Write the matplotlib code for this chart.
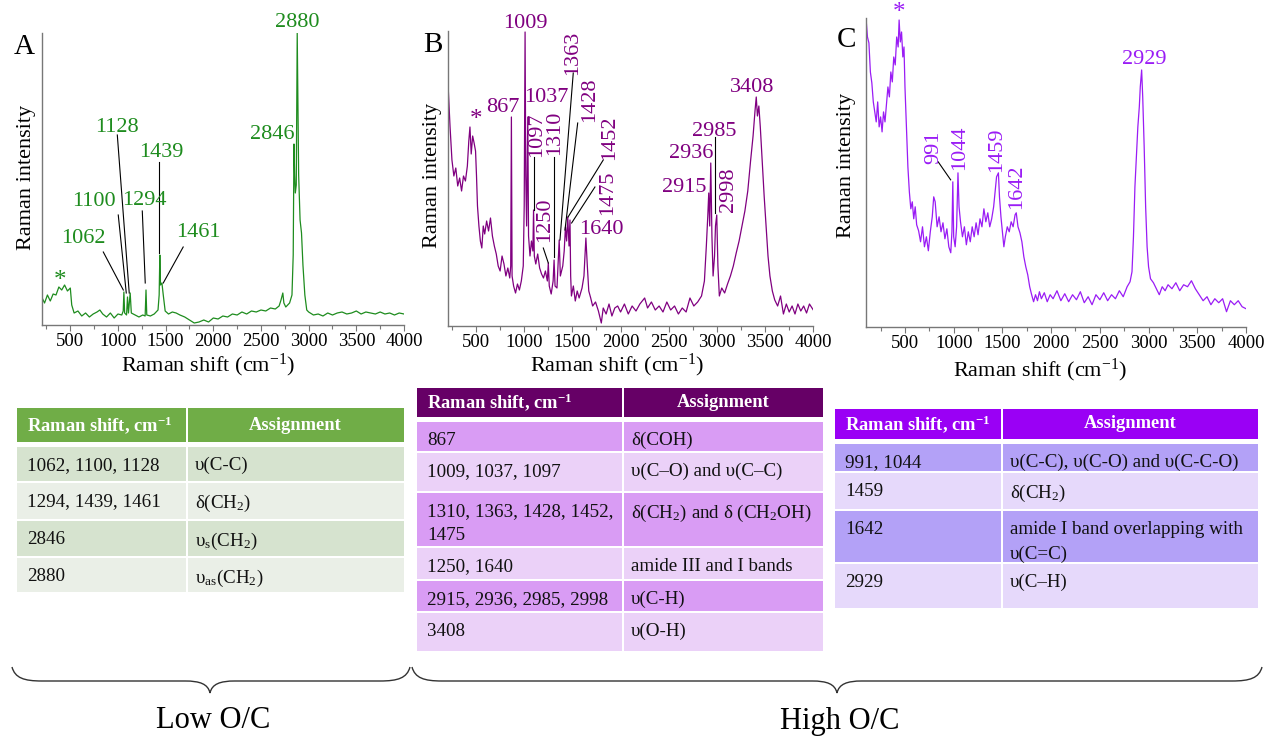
import matplotlib
matplotlib.use("Agg")
import matplotlib.pyplot as plt
from matplotlib.patches import Rectangle, PathPatch
from matplotlib.path import Path
from matplotlib.ticker import MultipleLocator

plt.rcParams['font.family'] = ['Liberation Serif', 'DejaVu Serif']
plt.rcParams['mathtext.fontset'] = 'custom'
plt.rcParams['mathtext.rm'] = 'Liberation Serif'
plt.rcParams['mathtext.it'] = 'Liberation Serif:italic'
plt.rcParams['mathtext.bf'] = 'Liberation Serif:bold'

W, H = 1264, 739

# ---- spectra (shift in cm-1, intensity in arbitrary units) ----
shift_a = [200, 230, 260, 290, 320, 350, 380, 410, 440, 470, 500, 515, 540, 580, 620, 660, 700, 740,
           780, 810, 840, 880, 920, 960, 1000, 1040, 1055, 1062, 1070, 1090, 1100, 1110, 1128, 1140,
           1180, 1220, 1260, 1285, 1294, 1302, 1340, 1380, 1420, 1432, 1439, 1446, 1461, 1475, 1495,
           1530, 1570, 1610, 1650, 1700, 1750, 1800, 1850, 1900, 1950, 2000, 2050, 2100, 2150, 2200,
           2250, 2300, 2350, 2400, 2450, 2500, 2550, 2600, 2650, 2690, 2710, 2729, 2740, 2760, 2800,
           2825, 2838, 2846, 2853, 2860, 2870, 2880, 2895, 2910, 2925, 2940, 2960, 2980, 3000, 3050,
           3100, 3150, 3200, 3250, 3300, 3350, 3400, 3450, 3500, 3550, 3600, 3650, 3700, 3750, 3800,
           3850, 3900, 3950, 4000]
int_a = [28, 22, 30, 24, 31, 30, 38, 35, 40, 34, 37, 20, 12, 14, 9, 12, 8, 11,
         13, 15, 11, 8, 12, 7, 11, 10, 14, 33, 12, 10, 28, 12, 32, 12,
         10, 8, 10, 9, 35, 10, 9, 11, 15, 30, 70, 40, 42, 30, 14,
         11, 13, 12, 10, 8, 5, 2, 3, 5, 3, 7, 6, 9, 8, 11,
         10, 13, 11, 14, 13, 15, 14, 17, 16, 19, 25, 32, 22, 18, 22,
         30, 70, 181, 150, 132, 140, 292, 150, 105, 92, 60, 30, 15, 13, 10,
         11, 9, 12, 10, 12, 13, 11, 12, 14, 11, 13, 12, 11, 13, 11,
         12, 10, 12, 11]

shift_b = [200, 215, 230, 250, 270, 290, 310, 330, 350, 370, 390, 410, 425, 437, 450, 465, 480, 495,
           505, 515, 530, 545, 560, 575, 590, 610, 630, 650, 670, 690, 710, 730, 750, 770, 790, 810,
           830, 850, 860, 867, 874, 890, 910, 930, 950, 970, 990, 1000, 1009, 1016, 1025, 1037, 1045,
           1060, 1075, 1090, 1097, 1105, 1120, 1140, 1160, 1180, 1200, 1220, 1240, 1250, 1260, 1280,
           1300, 1310, 1320, 1340, 1363, 1375, 1400, 1415, 1428, 1440, 1452, 1465, 1475, 1482, 1490,
           1510, 1530, 1550, 1570, 1600, 1620, 1640, 1655, 1670, 1690, 1710, 1740, 1770, 1800, 1820,
           1850, 1880, 1910, 1940, 1970, 2000, 2040, 2080, 2120, 2160, 2200, 2250, 2280, 2320, 2360,
           2400, 2440, 2480, 2520, 2560, 2600, 2640, 2680, 2720, 2760, 2800, 2840, 2870, 2890, 2905,
           2915, 2925, 2936, 2948, 2960, 2975, 2985, 2998, 3010, 3025, 3050, 3080, 3110, 3140, 3170,
           3200, 3230, 3260, 3290, 3320, 3350, 3375, 3395, 3408, 3420, 3435, 3450, 3470, 3490, 3510,
           3530, 3550, 3575, 3600, 3630, 3660, 3690, 3720, 3750, 3780, 3810, 3840, 3870, 3900, 3930,
           3960, 4000]
int_b = [261, 230, 200, 166, 150, 158, 140, 148, 135, 150, 145, 160, 185, 199, 172, 190, 183, 175,
         150, 120, 100, 85, 78, 100, 92, 105, 95, 108, 90, 80, 72, 60, 55, 70, 62, 50,
         58, 48, 60, 209, 50, 40, 33, 42, 36, 45, 60, 120, 294, 150, 100, 209, 90,
         70, 85, 75, 116, 70, 62, 72, 58, 52, 48, 55, 45, 63, 40, 32,
         45, 66, 40, 38, 86, 50, 60, 75, 99, 85, 109, 80, 106, 50, 30,
         40, 25, 35, 28, 38, 50, 88, 60, 35, 28, 20, 24, 15, 3, 18,
         12, 22, 10, 18, 20, 14, 22, 12, 20, 15, 22, 28, 18, 24, 16,
         20, 14, 24, 16, 20, 12, 18, 14, 28, 20, 24, 30, 45, 80, 110,
         133, 100, 163, 90, 50, 70, 100, 111, 60, 30, 38, 33, 42, 50, 60,
         73, 85, 100, 115, 135, 166, 190, 215, 229, 210, 220, 199, 165, 130, 100,
         70, 50, 35, 26, 20, 30, 12, 22, 14, 20, 12, 22, 15, 20, 13,
         22, 16]

shift_c = [100, 115, 130, 145, 160, 175, 190, 205, 220, 235, 250, 265, 280, 295, 310, 325, 340, 355,
           370, 385, 400, 415, 430, 440, 452, 465, 478, 490, 500, 515, 530, 545, 560, 575, 590, 605,
           620, 640, 660, 680, 700, 720, 740, 760, 780, 795, 810, 830, 850, 870, 890, 910, 930, 950,
           970, 982, 991, 1000, 1015, 1030, 1044, 1055, 1070, 1090, 1110, 1130, 1150, 1170, 1190, 1210,
           1230, 1250, 1270, 1290, 1310, 1330, 1350, 1370, 1390, 1410, 1425, 1440, 1459, 1470, 1485,
           1500, 1515, 1530, 1550, 1570, 1590, 1610, 1630, 1642, 1660, 1680, 1700, 1720, 1740, 1760,
           1780, 1800, 1820, 1840, 1860, 1880, 1900, 1930, 1960, 1990, 2020, 2060, 2100, 2140, 2180,
           2220, 2260, 2300, 2340, 2380, 2420, 2460, 2500, 2540, 2580, 2620, 2660, 2700, 2740, 2780,
           2810, 2830, 2845, 2860, 2875, 2890, 2905, 2915, 2929, 2940, 2955, 2970, 2985, 3000, 3020,
           3050, 3080, 3110, 3140, 3170, 3200, 3240, 3280, 3320, 3360, 3400, 3440, 3480, 3520, 3560,
           3600, 3640, 3680, 3720, 3760, 3800, 3840, 3880, 3920, 3960, 4000]
int_c = [309, 290, 284, 255, 244, 225, 215, 205, 225, 200, 210, 195, 215, 205, 222, 240, 230, 255,
         245, 270, 262, 290, 280, 307, 285, 295, 270, 280, 240, 200, 160, 135, 118, 125, 108, 120,
         102, 96, 85, 100, 80, 90, 76, 95, 110, 130, 125, 100, 110, 95, 104, 88, 98, 80,
         74, 95, 145, 90, 80, 100, 154, 120, 105, 90, 100, 82, 95, 85, 100, 90,
         104, 92, 108, 100, 118, 105, 114, 100, 108, 120, 135, 150, 154, 130, 110,
         95, 80, 90, 100, 95, 105, 100, 112, 114, 100, 94, 85, 70, 60, 52,
         40, 32, 25, 32, 26, 35, 28, 34, 25, 32, 28, 36, 26, 33, 25,
         32, 27, 35, 24, 30, 22, 32, 27, 34, 26, 32, 28, 36, 30, 40,
         45, 55, 90, 140, 170, 200, 220, 240, 257, 230, 180, 120, 80, 60, 48,
         44, 38, 32, 40, 36, 42, 38, 44, 36, 42, 40, 46, 38, 32, 26,
         30, 22, 28, 24, 28, 15, 26, 22, 26, 20, 18]

# ---- assignment tables ----
tab_a_shift = ["1062, 1100, 1128", "1294, 1439, 1461", "2846", "2880"]
tab_a_assign = ["υ(C-C)", "δ(CH$_\\mathrm{2}$)", "υ$_\\mathrm{s}$(CH$_\\mathrm{2}$)",
                "υ$_\\mathrm{as}$(CH$_\\mathrm{2}$)"]
tab_b_shift = ["867", "1009, 1037, 1097", "1310, 1363, 1428, 1452,\n1475", "1250, 1640",
               "2915, 2936, 2985, 2998", "3408"]
tab_b_assign = ["δ(COH)", "υ(C–O) and υ(C–C)", "δ(CH$_\\mathrm{2}$) and δ (CH$_\\mathrm{2}$OH)",
                "amide III and I bands", "υ(C-H)", "υ(O-H)"]
tab_c_shift = ["991, 1044", "1459", "1642", "2929"]
tab_c_assign = ["υ(C-C), υ(C-O) and υ(C-C-O)", "δ(CH$_\\mathrm{2}$)",
                "amide I band overlapping with\nυ(C=C)", "υ(C–H)"]
header = ["Raman shift, cm$^\\mathbf{-1}$", "Assignment"]

green = "#1e8c1e"
plum = "#800080"
violet = "#9a1cf5"

fig = plt.figure(figsize=(W / 100, H / 100), dpi=100)

# overlay in pixel coordinates for tables, braces and free text
ov = fig.add_axes([0, 0, 1, 1])
ov.set_xlim(0, W)
ov.set_ylim(H, 0)
ov.axis("off")


def add_panel(box, xmin, ymax, shift, inten, color):
    x0, y0, x1, y1 = box
    ax = fig.add_axes([x0 / W, 1 - y1 / H, (x1 - x0) / W, (y1 - y0) / H])
    ax.plot(shift, inten, color=color, lw=0.9)
    ax.set_xlim(xmin, 4000)
    ax.set_ylim(0, ymax)
    ax.set_xticks(range(500, 4001, 500))
    ax.xaxis.set_minor_locator(MultipleLocator(250))
    ax.set_yticks([])
    ax.tick_params(axis="x", which="major", length=4, width=0.8, color="#777777",
                   labelsize=13.5, pad=2)
    ax.tick_params(axis="x", which="minor", length=3, width=0.8, color="#777777")
    for s in ["top", "right"]:
        ax.spines[s].set_visible(False)
    for s in ["left", "bottom"]:
        ax.spines[s].set_color("#777777")
        ax.spines[s].set_linewidth(1.0)
    ax.patch.set_alpha(0)
    return ax


def add_labels(ax, labels, lines, color):
    for txt, x, y, rot in labels:
        fs = 18 if txt == "*" else 16
        ax.text(x, y, txt, color=color, fontsize=fs, rotation=rot,
                ha="center", va="center", clip_on=False)
    for xa, ya, xb, yb in lines:
        ax.plot([xa, xb], [ya, yb], color="black", lw=0.8, clip_on=False)


ax_a = add_panel((41.7, 33, 404, 325), 200, 292, shift_a, int_a, green)
ax_b = add_panel((447.7, 31, 813.3, 326), 206, 295, shift_b, int_b, plum)
ax_c = add_panel((865.7, 18, 1246, 326.7), 97, 309, shift_c, int_c, violet)

add_labels(ax_a,
           [("1062", 636, 86, 0), ("1100", 752, 123, 0), ("1128", 993, 197, 0),
            ("1294", 1276, 124, 0), ("1439", 1454, 172, 0), ("1461", 1842, 92, 0),
            ("2846", 2617, 190, 0), ("2880", 2880, 302, 0), ("*", 395, 44, 0)],
           [(846, 73, 1056, 35), (1003, 110, 1087, 32), (993, 190, 1118, 32),
            (1255, 114, 1286, 42), (1433, 163, 1433, 72), (1684, 78, 1475, 42)],
           green)
add_labels(ax_b,
           [("1009", 1008, 302, 0), ("867", 783, 218, 0), ("*", 497, 206, 0),
            ("1037", 1233, 228, 0), ("1097", 1129, 191, 90), ("1310", 1319, 193, 90),
            ("1363", 1499, 273, 90), ("1428", 1682, 226, 90), ("1452", 1882, 188, 90),
            ("1475", 1866, 133, 90), ("1250", 1216, 106, 90), ("1640", 1796, 96, 0),
            ("2915", 2660, 138, 0), ("2936", 2737, 173, 0), ("2985", 2968, 195, 0),
            ("2998", 3116, 136, 90), ("3408", 3365, 238, 0)],
           [(1101, 169, 1101, 116), (1312, 169, 1312, 69), (1198, 78, 1250, 63),
            (1509, 253, 1371, 86), (1555, 203, 1423, 96), (1820, 166, 1455, 109),
            (1734, 139, 1492, 103), (2978, 189, 2978, 113)],
           plum)
add_labels(ax_c,
           [("*", 438, 314, 0), ("2929", 2955, 267, 0), ("991", 791, 180, 90),
            ("1044", 1065, 179, 90), ("1459", 1442, 177, 90), ("1642", 1647, 140, 90)],
           [(841, 165, 969, 147)],
           violet)

# axis titles and panel letters
for (xl, yl), (yx, yy), (lx, ly), letter in [((208, 365), (27, 177), (24, 47), "A"),
                                               ((617, 365), (432, 175), (433, 45), "B"),
                                               ((1040, 370), (847, 165), (847, 40), "C")]:
    ov.text(xl, yl, "Raman shift (cm$^{-1}$)", fontsize=16, ha="center", va="center")
    ov.text(yx, yy, "Raman intensity", fontsize=16, rotation=90, ha="center", va="center")
    ov.text(lx, ly, letter, fontsize=21, ha="center", va="center")


def draw_table(x0, xdiv, x1, head_rows, rows, shifts, assigns, head_col, dark, light):
    hy0, hy1 = head_rows
    ov.add_patch(Rectangle((x0, hy0), xdiv - 1 - x0, hy1 - hy0, color=head_col, lw=0))
    ov.add_patch(Rectangle((xdiv + 1, hy0), x1 - xdiv - 1, hy1 - hy0, color=head_col, lw=0))
    hc = (hy0 + hy1) / 2
    ov.text(x0 + 10, hc, header[0], color="white", fontsize=13.3,
            fontweight="bold", ha="left", va="center")
    ov.text((xdiv + x1) / 2, hc, header[1], color="white", fontsize=13.3,
            fontweight="bold", ha="center", va="center")
    for i, ((ry0, ry1), s, a) in enumerate(zip(rows, shifts, assigns)):
        col = dark if i % 2 == 0 else light
        ov.add_patch(Rectangle((x0, ry0 + 1), xdiv - 1 - x0, ry1 - ry0 - 2, color=col, lw=0))
        ov.add_patch(Rectangle((xdiv + 1, ry0 + 1), x1 - xdiv - 1, ry1 - ry0 - 2, color=col, lw=0))
        ov.text(x0 + 10, ry0 + 11, s, fontsize=13.7, ha="left", va="top",
                color="#111111", linespacing=1.55)
        ov.text(xdiv + 8, ry0 + 11, a, fontsize=13.7, ha="left", va="top",
                color="#111111", linespacing=1.55)


draw_table(17, 187, 404, (408, 442),
           [(446, 482), (482, 520), (520, 557), (557, 593)],
           tab_a_shift, tab_a_assign, "#70ad47", "#d6e3cf", "#eaefe7")
draw_table(417, 623, 823, (388, 417),
           [(421, 452), (452, 492), (492, 547), (547, 580), (580, 612), (612, 652)],
           tab_b_shift, tab_b_assign, "#660066", "#d99cf4", "#ebd1f8")
draw_table(835, 1002, 1258, (409, 439),
           [(443, 472), (472, 510), (510, 563), (563, 609)],
           tab_c_shift, tab_c_assign, "#9a00f5", "#b3a1f7", "#e6d9fb")


def brace(xl, xt, xr, ye=667, yf=681, yt=693):
    verts = [(xl, ye), (xl + 3, yf - 3), (xl + 12, yf), (xl + 30, yf),
             (xt - 25, yf),
             (xt - 10, yf), (xt - 2, yf + 3), (xt, yt),
             (xt + 2, yf + 3), (xt + 10, yf), (xt + 25, yf),
             (xr - 30, yf),
             (xr - 12, yf), (xr - 3, yf - 3), (xr, ye)]
    codes = [Path.MOVETO, Path.CURVE4, Path.CURVE4, Path.CURVE4,
             Path.LINETO,
             Path.CURVE4, Path.CURVE4, Path.CURVE4,
             Path.CURVE4, Path.CURVE4, Path.CURVE4,
             Path.LINETO,
             Path.CURVE4, Path.CURVE4, Path.CURVE4]
    ov.add_patch(PathPatch(Path(verts, codes), fill=False, lw=1.0, edgecolor="#333333"))


brace(12, 210, 410)
brace(412, 837, 1262)
ov.text(213, 721, "Low O/C", fontsize=22, ha="center", va="center")
ov.text(840, 721, "High O/C", fontsize=22, ha="center", va="center")

fig.savefig("out.png", dpi=100)
